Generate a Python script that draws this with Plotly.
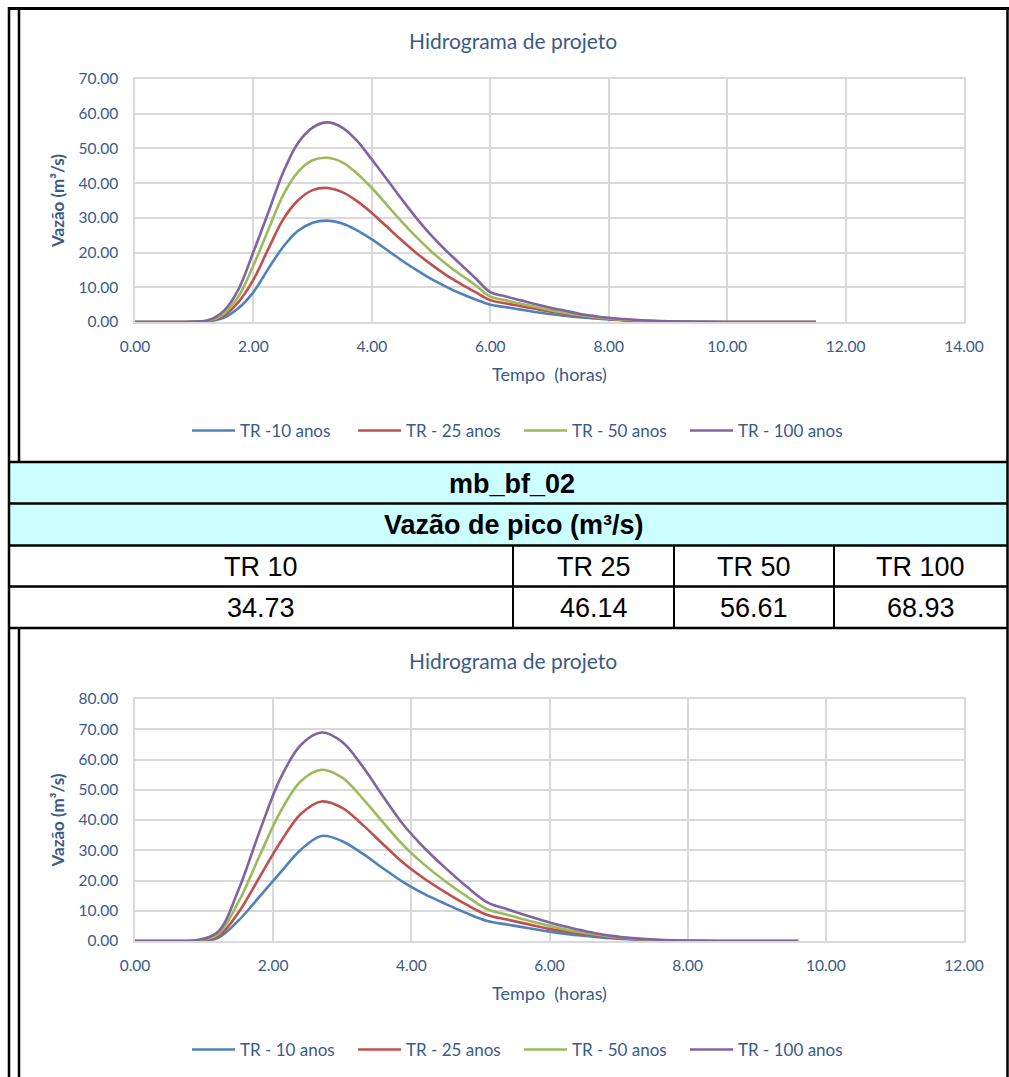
import plotly.graph_objects as go

W, H = 1009, 1077

# ---- Hydrograph 1 (upper chart), time step 0.25 h ----
t1 = [0, 0.25, 0.5, 0.75, 1.0, 1.25, 1.5, 1.75, 2.0, 2.25, 2.5, 2.75, 3.0, 3.25, 3.5,
      3.75, 4.0, 4.25, 4.5, 4.75, 5.0, 5.25, 5.5, 5.75, 6.0, 6.25, 6.5, 6.75, 7.0, 7.25,
      7.5, 7.75, 8.0, 8.25, 8.5, 8.75, 9.0, 9.5, 10.0, 10.5, 11.0, 11.5]
q1_tr10 = [0, 0, 0, 0, 0.02, 0.2, 1.2, 4.0, 8.6, 15.3, 21.6, 26.2, 28.6, 29.2, 28.4,
           26.4, 23.8, 20.8, 17.8, 15.0, 12.4, 10.2, 8.2, 6.5, 5.0, 4.3, 3.6, 2.9, 2.3, 1.8,
           1.35, 1.0, 0.7, 0.48, 0.3, 0.18, 0.1, 0.03, 0, 0, 0, 0]
q1_tr25 = [0, 0, 0, 0, 0.03, 0.3, 1.8, 5.8, 12.2, 21.0, 29.5, 35.0, 38.0, 38.6, 37.4,
           34.8, 31.4, 27.5, 23.6, 19.9, 16.6, 13.6, 11.0, 8.6, 6.3, 5.4, 4.6, 3.8, 3.0, 2.35,
           1.75, 1.3, 0.9, 0.62, 0.4, 0.24, 0.14, 0.04, 0, 0, 0, 0]
q1_tr50 = [0, 0, 0, 0, 0.04, 0.4, 2.4, 7.4, 16.3, 26.5, 36.5, 43.2, 46.6, 47.3, 46.0,
           42.8, 38.6, 33.8, 29.0, 24.5, 20.4, 16.8, 13.6, 10.6, 7.3, 6.3, 5.3, 4.4, 3.5, 2.7,
           2.0, 1.45, 1.0, 0.7, 0.45, 0.28, 0.16, 0.05, 0, 0, 0, 0]
q1_tr100 = [0, 0, 0, 0, 0.1, 0.6, 3.2, 9.5, 20.2, 31.5, 43.0, 51.5, 56.0, 57.5, 56.0,
            52.2, 46.8, 41.2, 35.5, 30.0, 25.0, 20.6, 16.6, 12.6, 8.6, 7.4, 6.3, 5.2, 4.2, 3.3,
            2.4, 1.75, 1.2, 0.85, 0.55, 0.34, 0.2, 0.06, 0, 0, 0, 0]
names1 = ["TR -10 anos", "TR - 25 anos", "TR - 50 anos", "TR - 100 anos"]

# ---- Hydrograph 2 (lower chart, basin mb_bf_02), time step 0.3 h ----
t2 = [0.0, 0.3, 0.6, 0.9, 1.2, 1.5, 1.8, 2.1, 2.4, 2.7, 3.0, 3.3, 3.6, 3.9, 4.2, 4.5,
      4.8, 5.1, 5.4, 5.7, 6.0, 6.3, 6.6, 6.9, 7.2, 7.5, 7.8, 8.1, 8.4, 8.7, 9.0, 9.3, 9.6]
q2_tr10 = [0, 0, 0, 0.1, 1.0, 6.8, 14.6, 22.5, 30.2, 34.73, 33.0, 28.8, 23.9, 19.2, 15.4,
           12.2, 9.2, 6.6, 5.4, 4.2, 3.1, 2.2, 1.5, 0.9, 0.5, 0.25, 0.1, 0.03, 0, 0, 0, 0, 0]
q2_tr25 = [0, 0, 0, 0.15, 1.5, 9.5, 21.0, 32.5, 42.0, 46.14, 44.0, 38.3, 31.8, 25.5, 20.4,
           16.0, 12.0, 8.6, 7.0, 5.5, 4.0, 2.9, 2.0, 1.2, 0.65, 0.33, 0.14, 0.04, 0, 0, 0, 0, 0]
q2_tr50 = [0, 0, 0, 0.2, 2.2, 13.0, 28.0, 42.5, 52.8, 56.61, 54.0, 47.0, 39.0, 31.3, 25.0,
           19.6, 14.8, 10.5, 8.6, 6.7, 5.0, 3.5, 2.4, 1.45, 0.8, 0.4, 0.17, 0.05, 0, 0, 0, 0, 0]
q2_tr100 = [0, 0, 0, 0.3, 3.0, 17.0, 36.0, 53.5, 64.8, 68.93, 65.8, 57.5, 47.5, 38.0, 30.5,
            24.0, 18.0, 12.8, 10.4, 8.2, 6.1, 4.4, 2.9, 1.7, 0.95, 0.5, 0.22, 0.08, 0.02, 0, 0,
            0, 0]
names2 = ["TR - 10 anos", "TR - 25 anos", "TR - 50 anos", "TR - 100 anos"]

# ---- Peak-flow table ----
table_title = "mb_bf_02"
table_header = "Vazão de pico (m³/s)"
return_periods = ["TR 10", "TR 25", "TR 50", "TR 100"]
peak_flows = [34.73, 46.14, 56.61, 68.93]

chart_title = "Hidrograma de projeto"
x_title = "Tempo  (horas)"
y_title = "Vazão (m³/s)"

colors = ["#4F81BD", "#C0504D", "#9BBB59", "#8064A2"]
TXT = "#3A5A88"
GRID = "#D9D9D9"
FONT = "Lato"


def px(x):
    return x / W


def py(y):
    return 1 - y / H


fig = go.Figure()

for name, q, c in zip(names1, [q1_tr10, q1_tr25, q1_tr50, q1_tr100], colors):
    fig.add_trace(go.Scatter(x=t1, y=q, name=name, mode="lines",
                             line=dict(color=c, width=2.6, shape="spline", smoothing=1.0),
                             xaxis="x", yaxis="y", legend="legend"))

for name, q, c in zip(names2, [q2_tr10, q2_tr25, q2_tr50, q2_tr100], colors):
    fig.add_trace(go.Scatter(x=t2, y=q, name=name, mode="lines",
                             line=dict(color=c, width=2.6, shape="spline", smoothing=1.0),
                             xaxis="x2", yaxis="y2", legend="legend2"))

axis_common = dict(showgrid=True, gridcolor=GRID, gridwidth=1.5, showline=True,
                   linecolor=GRID, linewidth=1.5, mirror=True, zeroline=False,
                   automargin=False, tickformat=".2f", ticks="",
                   tickfont=dict(family=FONT, size=15.5, color=TXT))
xt_font = dict(family=FONT, size=18, color=TXT)
yt_font = dict(family=FONT, size=17, color=TXT)
leg_font = dict(family=FONT, size=17, color=TXT)

x_dom = [px(135), px(964)]
fig.update_layout(
    template="none",
    width=W, height=H, margin=dict(l=0, r=0, t=0, b=0, autoexpand=False),
    paper_bgcolor="white", plot_bgcolor="white", showlegend=True,
    xaxis=dict(domain=x_dom, range=[0, 14], dtick=2, anchor="y",
               title=dict(text=x_title, font=xt_font, standoff=14),
               ticklabelstandoff=10, **axis_common),
    yaxis=dict(domain=[py(322), py(79)], range=[0, 70], dtick=10, anchor="x",
               title=dict(text="<b>" + y_title + "</b>", font=yt_font, standoff=10),
               ticklabelstandoff=12, **axis_common),
    xaxis2=dict(domain=x_dom, range=[0, 12], dtick=2, anchor="y2",
                title=dict(text=x_title, font=xt_font, standoff=14),
                ticklabelstandoff=10, **axis_common),
    yaxis2=dict(domain=[py(941), py(699)], range=[0, 80], dtick=10, anchor="x2",
                title=dict(text="<b>" + y_title + "</b>", font=yt_font, standoff=10),
                ticklabelstandoff=12, **axis_common),
    legend=dict(orientation="h", x=px(187), y=py(431), xanchor="left", yanchor="middle",
                font=leg_font, entrywidth=108, itemwidth=43, bgcolor="rgba(0,0,0,0)"),
    legend2=dict(orientation="h", x=px(187), y=py(1050), xanchor="left", yanchor="middle",
                 font=leg_font, entrywidth=108, itemwidth=43, bgcolor="rgba(0,0,0,0)"),
)

# chart titles
for yc in (40, 660):
    fig.add_annotation(text=chart_title, x=px(513), y=py(yc), xref="paper", yref="paper",
                       showarrow=False, xanchor="center", yanchor="middle",
                       font=dict(family=FONT, size=21, color=TXT))

shapes = []


def hline(y, x0, x1, w=2.5):
    shapes.append(dict(type="line", xref="paper", yref="paper", x0=px(x0), x1=px(x1),
                       y0=py(y), y1=py(y), line=dict(color="black", width=w)))


def vline(x, y0, y1, w=2.5):
    shapes.append(dict(type="line", xref="paper", yref="paper", x0=px(x), x1=px(x),
                       y0=py(y0), y1=py(y1), line=dict(color="black", width=w)))


# cyan header rows of the table
shapes.append(dict(type="rect", xref="paper", yref="paper", x0=px(9), x1=px(1007.5),
                   y0=py(545.5), y1=py(462), fillcolor="#CCFFFF", line=dict(width=0),
                   layer="below"))

# outer frame
hline(8.5, 8, 1009, 3)
vline(9, 7, 1077)
vline(1007.5, 7, 1077)
vline(19, 8, 462)
vline(19, 628, 1077)
# table rows
for yy in (462, 503.5, 545.5, 586.5, 628):
    hline(yy, 9, 1007.5)
# table columns
col_edges = [9, 513, 674, 834, 1007.5]
for xx in col_edges[1:-1]:
    vline(xx, 545.5, 628, 2)

fig.update_layout(shapes=shapes)

TFONT = "Liberation Sans"
fig.add_annotation(text="<b>" + table_title + "</b>", x=px(512), y=py(484), xref="paper",
                   yref="paper", showarrow=False, xanchor="center", yanchor="middle",
                   font=dict(family=TFONT, size=27, color="black"))
fig.add_annotation(text="<b>" + table_header + "</b>", x=px(514), y=py(525), xref="paper",
                   yref="paper", showarrow=False, xanchor="center", yanchor="middle",
                   font=dict(family=TFONT, size=27, color="black"))
for i, (lab, val) in enumerate(zip(return_periods, peak_flows)):
    xc = (col_edges[i] + col_edges[i + 1]) / 2
    fig.add_annotation(text=lab, x=px(xc), y=py(567), xref="paper", yref="paper",
                       showarrow=False, xanchor="center", yanchor="middle",
                       font=dict(family=TFONT, size=27, color="black"))
    fig.add_annotation(text=f"{val:.2f}", x=px(xc), y=py(608), xref="paper", yref="paper",
                       showarrow=False, xanchor="center", yanchor="middle",
                       font=dict(family=TFONT, size=27, color="black"))

fig.write_html("out.html")
